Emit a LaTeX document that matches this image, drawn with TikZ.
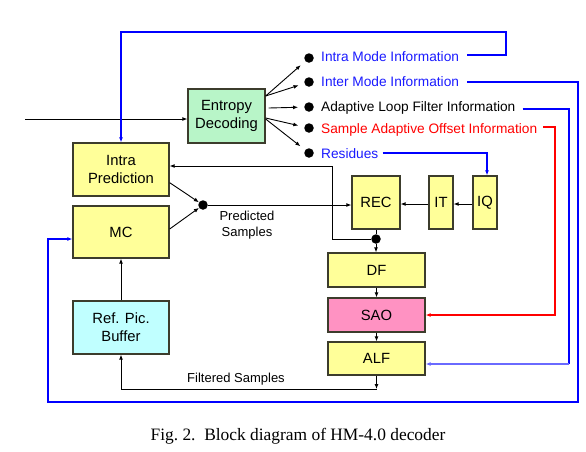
\documentclass[tikz,border=0pt]{standalone}
\usepackage{fontspec}
\setmainfont{Liberation Sans}
\newfontfamily\capfont{Liberation Serif}
\usetikzlibrary{arrows.meta,calc}
\definecolor{boxedge}{HTML}{3C3C2C}
\definecolor{yfill}{HTML}{FFFF99}
\definecolor{gfill}{HTML}{B8F5C8}
\definecolor{pfill}{HTML}{FF92C2}
\definecolor{cfill}{HTML}{C0FFFF}
\definecolor{blueline}{HTML}{0000FF}
\definecolor{lightblueline}{HTML}{6A6AFF}
\definecolor{redline}{HTML}{FF0000}
\definecolor{bluetext}{HTML}{1A1AFF}
\begin{document}
\begin{tikzpicture}[x=1pt,y=-1pt,
  box/.style={draw=boxedge,line width=1.3pt,align=center,inner sep=0pt,
    font=\fontsize{14.8}{17.6}\selectfont},
  arr/.style={-{Latex[length=5pt,width=4pt]}},
  blk/.style={line width=0.9pt,black},
  bl/.style={line width=1.1pt,blueline},
  lbl/.style={line width=1.3pt,lightblueline},
  rd/.style={line width=1.1pt,redline},
  dot/.style={circle,fill=black,inner sep=0pt,minimum size=9.5pt},
  info/.style={anchor=west,inner sep=0pt,text height=9.6pt,text depth=0pt,
    font=\fontsize{13.7}{16}\selectfont},
  smalltext/.style={align=center,inner sep=0pt,font=\fontsize{13}{16}\selectfont}]
\useasboundingbox (0,0) rectangle (586,451);

% boxes
\node[box,fill=gfill,minimum width=77pt,minimum height=54pt] (entropy) at (226.5,116) {Entropy\\Decoding};
\node[box,fill=yfill,minimum width=96pt,minimum height=53pt] (intra) at (121,169.5) {Intra\\Prediction};
\node[box,fill=yfill,minimum width=96pt,minimum height=52pt] (mc) at (121,232) {MC};
\node[box,fill=cfill,minimum width=96pt,minimum height=53pt] (ref) at (121,327.5) {Ref. Pic.\\Buffer};
\node[box,fill=yfill,minimum width=48pt,minimum height=53pt] (rec) at (376,202.5) {REC};
\node[box,fill=yfill,minimum width=24pt,minimum height=53pt] (it) at (441,202.5) {IT};
\node[box,fill=yfill,minimum width=24pt,minimum height=53pt] (iq) at (485,202.5) {IQ};
\node[box,fill=yfill,minimum width=97pt,minimum height=34pt] (df) at (376.5,270) {DF};
\node[box,fill=pfill,minimum width=97pt,minimum height=34pt] (sao) at (376.5,315) {SAO};
\node[box,fill=yfill,minimum width=97pt,minimum height=33pt] (alf) at (376.5,358.5) {ALF};

% output dots and labels
\node[dot] (d1) at (309,58) {};
\node[dot] (d2) at (309,82) {};
\node[dot] (d3) at (309,107) {};
\node[dot] (d4) at (309,128) {};
\node[dot] (d5) at (309,153) {};
\node[info,text=bluetext] (l1) at (321,57) {Intra Mode Information};
\node[info,text=bluetext] (l2) at (321,82) {Inter Mode Information};
\node[info,text=black] (l3) at (321,107) {Adaptive Loop Filter Information};
\node[info,text=redline] (l4) at (321,129) {Sample Adaptive Offset Information};
\node[info,text=bluetext] (l5) at (321,154) {Residues};

% entropy outputs
\draw[blk,arr,shorten >=6pt] ([yshift=20pt]entropy.east) -- (d1);
\draw[blk,arr,shorten >=6pt] ([yshift=20pt]entropy.east) -- (d2);
\draw[blk,arr,shorten >=6pt] ([xshift=3pt,yshift=8pt]entropy.east) -- (d3);
\draw[blk,arr,shorten >=6pt] ([yshift=-2pt]entropy.east) -- (d4);
\draw[blk,arr,shorten >=6pt] ([yshift=-3pt]entropy.east) -- (d5);

% input
\coordinate (in) at (25,119);
\draw[blk,arr] (in) -- (in -| entropy.west);

% side information lines
\draw[bl,arr] ([xshift=8pt,yshift=2pt]l1.east) -| (506,32) -| (intra.north);
\draw[bl,arr] ([xshift=8pt]l2.east) -| (578,402) -- (48,402) |- ([yshift=-7pt]mc.west);
\draw[bl] ([xshift=7pt,yshift=-2pt]l3.east) -| (569,364);
\draw[lbl,arr] (569,364) -- ([yshift=-5.5pt]alf.east);
\draw[rd,arr] ([xshift=6pt,yshift=2pt]l4.east) -| (555,315) -- (sao.east);
\draw[bl,arr] ([xshift=4pt,yshift=1pt]l5.east) -| ([xshift=2pt]iq.north);

% main path
\draw[blk,arr] ([yshift=-1.5pt]iq.west) -- ([yshift=-1.5pt]it.east);
\draw[blk,arr] ([yshift=-1.5pt]it.west) -- ([yshift=-1.5pt]rec.east);
\node[dot] (j1) at (203,205) {};
\draw[blk,arr] ([yshift=14pt]intra.south east) -- (j1);
\draw[blk,arr] ([yshift=3pt]mc.east) -- (j1);
\draw[blk,arr] (j1) -- (j1 -| rec.west);
\node[dot] (j2) at (376,239) {};
\draw[blk] (rec.south) -- (j2);
\draw[blk,arr] (j2) -- (j2 |- df.north);
\draw[blk,arr] (j2) -| (332,166) -- ([yshift=3.5pt]intra.east);
\draw[blk,arr] (df.south) -- (sao.north);
\draw[blk,arr] (sao.south) -- (alf.north);
\coordinate (fs) at (376.5,389);
\draw[blk,arr] (alf.south) -- (fs);
\draw[blk,arr] (fs) -| (ref.south);
\draw[blk,arr] (ref.north) -- (mc.south);

% labels
\node[smalltext] (pred) at (247,225) {Predicted\\Samples};
\node[smalltext] (filt) at (236,379) {Filtered Samples};

% caption
\node[inner sep=0pt,font=\capfont\fontsize{17.4}{20}\selectfont] (cap) at (298,436) {Fig.~2.\ \ Block diagram of HM-4.0 decoder};
\end{tikzpicture}
\end{document}
